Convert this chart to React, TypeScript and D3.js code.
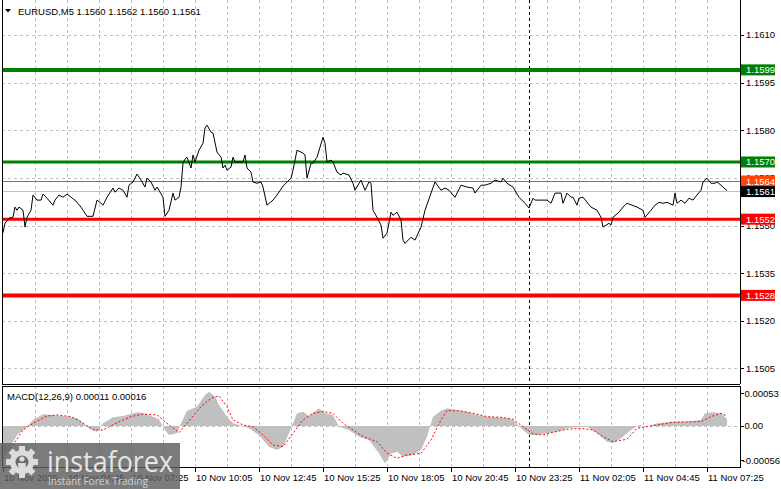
import React from 'react';
import * as d3 from 'd3';

// EURUSD M5 closes, [bar index, close]; bar 0 = 10 Nov 02:05
const closeSeries: [number, number][] = [
  [0, 1.15477], [1, 1.15507], [3, 1.15523], [5, 1.15526], [6, 1.15558], [7, 1.15548], [8, 1.15558], [10, 1.15548],
  [11, 1.15495], [12, 1.15526], [14, 1.15548], [15, 1.15596], [17, 1.1558], [19, 1.1558], [20, 1.15599], [22, 1.15586],
  [25, 1.15564], [26, 1.1558], [28, 1.15596], [30, 1.15589], [32, 1.15599], [34, 1.15589], [36, 1.1558], [39, 1.15558],
  [40, 1.15548], [42, 1.15529], [45, 1.15529], [47, 1.1558], [49, 1.1557], [50, 1.15564], [52, 1.15589], [55, 1.15618],
  [56, 1.15605], [58, 1.15618], [60, 1.15611], [62, 1.15589], [63, 1.15627], [65, 1.15637], [67, 1.15662], [69, 1.15643],
  [71, 1.15621], [72, 1.15649], [74, 1.15637], [76, 1.15611], [77, 1.15621], [80, 1.15589], [81, 1.15529], [83, 1.15548],
  [85, 1.15602], [86, 1.1558], [88, 1.15589], [89, 1.15621], [90, 1.15696], [91, 1.15709], [92, 1.15715], [94, 1.15681],
  [95, 1.15722], [96, 1.157], [98, 1.15737], [100, 1.15759], [101, 1.15807], [102, 1.15816], [104, 1.15794], [105, 1.15791],
  [107, 1.15731], [109, 1.15715], [110, 1.15681], [111, 1.1569], [112, 1.15674], [114, 1.15684], [115, 1.15715], [116, 1.157],
  [118, 1.157], [120, 1.157], [121, 1.15722], [122, 1.15681], [124, 1.15668], [125, 1.15637], [127, 1.15633], [129, 1.15637],
  [130, 1.15621], [132, 1.15564], [135, 1.1558], [137, 1.15596], [140, 1.15624], [144, 1.15649], [145, 1.15674], [147, 1.15737],
  [150, 1.15728], [151, 1.15722], [152, 1.15649], [154, 1.15696], [155, 1.15696], [157, 1.15715], [160, 1.15778], [161, 1.15759],
  [162, 1.157], [164, 1.15706], [165, 1.157], [167, 1.15668], [169, 1.15659], [170, 1.15665], [173, 1.15659], [175, 1.15633],
  [176, 1.15611], [179, 1.15643], [181, 1.15611], [183, 1.15637], [184, 1.15633], [185, 1.15548], [187, 1.15526], [189, 1.15501],
  [190, 1.1546], [192, 1.15476], [194, 1.15542], [195, 1.15532], [197, 1.15542], [199, 1.15517], [200, 1.15454], [201, 1.15444],
  [204, 1.15463], [206, 1.15454], [209, 1.15495], [211, 1.15548], [214, 1.15602], [216, 1.15637], [219, 1.15611], [221, 1.15618],
  [223, 1.15611], [226, 1.15589], [229, 1.15627], [232, 1.15621], [235, 1.15618], [236, 1.15602], [239, 1.15627], [241, 1.15627],
  [244, 1.15633], [246, 1.15643], [249, 1.15637], [250, 1.15649], [252, 1.15633], [255, 1.15621], [258, 1.15589], [261, 1.1557],
  [263, 1.15555], [265, 1.15586], [266, 1.1558], [272, 1.1558], [274, 1.1557], [276, 1.15602], [279, 1.15602], [280, 1.1557],
  [282, 1.15602], [284, 1.15589], [285, 1.15589], [287, 1.15564], [288, 1.15586], [290, 1.15589], [294, 1.15558], [297, 1.15548],
  [299, 1.15526], [300, 1.15495], [303, 1.15507], [304, 1.15501], [305, 1.15526], [308, 1.15542], [310, 1.15558], [312, 1.1557],
  [317, 1.15558], [320, 1.15548], [321, 1.15526], [324, 1.15548], [326, 1.15564], [328, 1.15573], [330, 1.1557], [332, 1.15573],
  [335, 1.15564], [336, 1.15602], [337, 1.1557], [339, 1.1558], [341, 1.1557], [343, 1.15586], [345, 1.1558], [347, 1.15596],
  [349, 1.15611], [350, 1.15637], [352, 1.15649], [354, 1.15633], [356, 1.15633], [357, 1.15637], [359, 1.15627], [360, 1.15621],
  [362, 1.1561],
];

// MACD(12,26,9) main (histogram) and signal, [bar, value]
const macdHist: [number, number][] = [
  [0, -0.0005], [3, -0.00038], [5, -0.00026], [7, -0.000147], [12, -0.000011], [15, 0.000098], [20, 0.00019], [25, 0.000179],
  [32, 0.000152], [37, 0.000125], [40, 0.000043], [43, -0.000038], [47, -0.000092], [50, 0.000043], [55, 0.000141], [60, 0.000163],
  [65, 0.000206], [68, 0.000223], [73, 0.000179], [78, 0.000109], [81, -0.000065], [83, -0.000147], [87, -0.000119], [89, 0.000043],
  [92, 0.00025], [97, 0.000315], [101, 0.000505], [103, 0.000559], [106, 0.000478], [108, 0.000342], [112, 0.000152], [115, 0.000043],
  [118, 0.000016], [123, -0.000038], [128, -0.000147], [133, -0.000337], [137, -0.000391], [140, -0.000337], [143, -0.000119], [147, 0.000206],
  [150, 0.000233], [153, 0.000163], [158, 0.000288], [161, 0.000206], [165, 0.000179], [168, -0.000011], [173, -0.000065], [178, -0.000174],
  [183, -0.000228], [188, -0.000445], [191, -0.00061], [194, -0.00045], [197, -0.000418], [200, -0.0005], [205, -0.000472], [209, -0.000391],
  [212, -0.000174], [215, 0.000152], [219, 0.00025], [222, 0.000288], [227, 0.000261], [232, 0.000233], [237, 0.000179], [242, 0.000152],
  [247, 0.000141], [252, 0.000125], [255, 0.000098], [259, -0.000038], [263, -0.000147], [267, -0.000147], [272, -0.000119], [277, -0.000092],
  [282, -0.000038], [287, -0.000022], [292, -0.000011], [297, -0.000119], [302, -0.000255], [305, -0.000282], [309, -0.000201], [314, -0.000065],
  [318, 0.000016], [322, -0.000011], [327, 0.000043], [330, 0.000054], [335, 0.000071], [342, 0.000071], [349, 0.000098], [351, 0.000206],
  [355, 0.000223], [359, 0.000206], [362, 0.00011],
];

const macdSignal: [number, number][] = [
  [0, -0.000527], [5, -0.00031], [10, -0.000065], [15, 0.000043], [22, 0.000163], [27, 0.000179], [34, 0.000152], [39, 0.000071],
  [45, -0.000065], [50, -0.000065], [57, 0.000054], [64, 0.000152], [70, 0.000195], [77, 0.000179], [82, 0.000043], [88, -0.000109],
  [92, 0.000043], [99, 0.000315], [104, 0.000451], [108, 0.000489], [112, 0.000315], [115, 0.000098], [120, 0.000016], [125, -0.000011],
  [130, -0.000147], [135, -0.00031], [140, -0.000337], [145, -0.000119], [150, 0.000098], [155, 0.000206], [160, 0.000233], [165, 0.000206],
  [170, 0.000043], [175, -0.000065], [180, -0.000174], [187, -0.000255], [192, -0.000445], [197, -0.000527], [202, -0.000472], [209, -0.000445],
  [214, -0.000228], [219, 0.000098], [222, 0.00025], [229, 0.000244], [235, 0.000206], [242, 0.000152], [249, 0.000141], [255, 0.000109],
  [260, -0.000011], [265, -0.00013], [270, -0.000147], [275, -0.000103], [282, -0.000054], [289, -0.000038], [295, -0.000065], [300, -0.000174],
  [305, -0.000255], [312, -0.000217], [317, -0.000038], [322, -0.000011], [329, 0.000027], [335, 0.00006], [342, 0.000065], [349, 0.000071],
  [354, 0.000152], [359, 0.000206], [362, 0.00016],
];

const priceTicks = [1.161, 1.1595, 1.158, 1.1565, 1.155, 1.1535, 1.152, 1.1505];
const levelPrices = [1.1599, 1.157, 1.1552, 1.1528];
const levelColors = ['#008000', '#008000', '#ff0000', '#ff0000'];
const levelWidths = [4, 3, 3, 4];
const askPrice = 1.1564;
const bidPrice = 1.1561;
const macdTicks = [0.00053, 0, -0.00056];
const macdTickLabels = ['0.00053', '0.00', '-0.00056'];
const timeLabels = [
  '10 Nov 2025', '10 Nov 04:45', '10 Nov 07:25', '10 Nov 10:05', '10 Nov 12:45', '10 Nov 15:25',
  '10 Nov 18:05', '10 Nov 20:45', '10 Nov 23:25', '11 Nov 02:05', '11 Nov 04:45', '11 Nov 07:25',
];
const daySeparatorBar = 263;
const lastBar = 362;

const W = 781;
const H = 489;
const FONT = '"Liberation Sans", Arial, sans-serif';

export default function App() {
  const left = 2, right = 740, mainBottom = 384, macdTop = 386, macdBottom = 467;

  const x = d3.scaleLinear().domain([0, lastBar]).range([3, 727]);
  const y = d3.scaleLinear().domain([1.15001, 1.1621]).range([mainBottom, 0]);
  const ym = d3.scaleLinear().domain([-0.000668, 0.000651]).range([macdBottom, macdTop]);

  const priceLine = d3.line<[number, number]>().x(d => x(d[0])).y(d => y(d[1]));
  const histArea = d3.area<[number, number]>().x(d => x(d[0])).y0(ym(0)).y1(d => ym(d[1]));
  const signalLine = d3.line<[number, number]>().x(d => x(d[0])).y(d => ym(d[1]));

  const gridBars = d3.range(16, lastBar + 1, 16);
  const labelBars = timeLabels.map((_, i) => i * 32);
  const fmt = d3.format('.4f');
  const crisp = (v: number) => Math.round(v) + 0.5;

  const gearTeeth = d3.range(8).map(i => i * 45);

  return (
    <svg width={W} height={H} style={{ position: 'absolute', left: 0, top: 0, background: '#fff' }}
      fontFamily={FONT} fontSize={9.5}>
      <rect x={0} y={0} width={W} height={H} fill="#fff" />

      {/* grid */}
      <g stroke="#c0c0c0" strokeDasharray="3 3" shapeRendering="crispEdges">
        {priceTicks.map(t => (
          <line key={t} x1={left} x2={right} y1={crisp(y(t))} y2={crisp(y(t))} />
        ))}
        {gridBars.map(b => (
          <g key={b}>
            <line x1={crisp(x(b))} x2={crisp(x(b))} y1={0} y2={mainBottom} />
            <line x1={crisp(x(b))} x2={crisp(x(b))} y1={macdTop} y2={macdBottom} />
          </g>
        ))}
        <line x1={left} x2={right} y1={crisp(ym(0))} y2={crisp(ym(0))} />
      </g>

      {/* day separator */}
      <g stroke="#000" strokeDasharray="3 3" shapeRendering="crispEdges">
        <line x1={crisp(x(daySeparatorBar))} x2={crisp(x(daySeparatorBar))} y1={0} y2={mainBottom} />
        <line x1={crisp(x(daySeparatorBar))} x2={crisp(x(daySeparatorBar))} y1={macdTop} y2={macdBottom} />
      </g>

      {/* bid / ask lines */}
      <line x1={left} x2={right} y1={crisp(y(bidPrice))} y2={crisp(y(bidPrice))} stroke="#c0c0c0" shapeRendering="crispEdges" />
      <line x1={left} x2={right} y1={crisp(y(askPrice))} y2={crisp(y(askPrice))} stroke="#ff4500" shapeRendering="crispEdges" />

      {/* levels */}
      {levelPrices.map((p, i) => (
        <line key={p} x1={left} x2={right} y1={y(p)} y2={y(p)} stroke={levelColors[i]} strokeWidth={levelWidths[i]} />
      ))}

      {/* price */}
      <path d={priceLine(closeSeries) ?? ''} fill="none" stroke="#000" strokeWidth={1} />

      {/* MACD */}
      <path d={histArea(macdHist) ?? ''} fill="#c0c0c0" />
      <path d={signalLine(macdSignal) ?? ''} fill="none" stroke="#ff0000" strokeWidth={1} strokeDasharray="2 2" />

      {/* pane frames */}
      <g stroke="#000" fill="none" shapeRendering="crispEdges">
        <line x1={left} x2={left} y1={0} y2={mainBottom} />
        <line x1={left} x2={right} y1={mainBottom + 0.5} y2={mainBottom + 0.5} />
        <line x1={right + 0.5} x2={right + 0.5} y1={0} y2={mainBottom} />
        <rect x={left} y={macdTop + 0.5} width={right - left + 0.5} height={macdBottom - macdTop} />
      </g>

      {/* price axis */}
      {priceTicks.map(t => (
        <g key={t}>
          <line x1={right} x2={right + 4} y1={crisp(y(t))} y2={crisp(y(t))} stroke="#000" shapeRendering="crispEdges" />
          <text x={746} y={y(t) + 3.5}>{fmt(t)}</text>
        </g>
      ))}
      {levelPrices.map((p, i) => (
        <g key={p}>
          <rect x={741} y={y(p) - 5.5} width={34} height={11} fill={levelColors[i]} />
          <text x={746} y={y(p) + 3.5} fill="#fff">{fmt(p)}</text>
        </g>
      ))}
      <rect x={741} y={y(askPrice) - 5.5} width={34} height={11} fill="#ff4500" />
      <text x={746} y={y(askPrice) + 3.5} fill="#fff">{fmt(askPrice)}</text>
      <rect x={741} y={y(bidPrice) - 4.5} width={34} height={11} fill="#000" />
      <text x={746} y={y(bidPrice) + 4.5} fill="#fff">{fmt(bidPrice)}</text>

      {/* MACD axis */}
      {macdTicks.map((t, i) => (
        <g key={t}>
          <line x1={right} x2={right + 4} y1={crisp(ym(t))} y2={crisp(ym(t))} stroke="#000" shapeRendering="crispEdges" />
          <text x={t < 0 ? 742.5 : 744.5} y={ym(t) + 3.5}>{macdTickLabels[i]}</text>
        </g>
      ))}

      {/* time axis */}
      {labelBars.map((b, i) => (
        <g key={b}>
          <line x1={crisp(x(b))} x2={crisp(x(b))} y1={macdBottom} y2={macdBottom + 5} stroke="#000" shapeRendering="crispEdges" />
          <text x={x(b) + 1} y={481}>{timeLabels[i]}</text>
        </g>
      ))}

      {/* titles */}
      <path d="M5,9 L11,9 L8,12.5 Z" fill="#000" />
      <text x={18} y={14.5}>EURUSD,M5  1.1560 1.1562 1.1560 1.1561</text>
      <text x={7} y={400}>MACD(12,26,9) 0.00011 0.00016</text>

      {/* watermark */}
      <g>
        <rect x={0} y={443} width={180} height={46} fill="#5e5e5e" opacity={0.82} />
        <g transform="translate(22,462)" fill="#dcdcdc">
          {gearTeeth.map(a => (
            <rect key={a} x={-3} y={-16} width={6} height={7} transform={`rotate(${a})`} />
          ))}
          <circle r={12} />
          <circle r={6.5} fill="#6a6a6a" />
          <circle cy={-3} r={2.6} />
          <path d="M-4,1 L4,1 L3,12 L-3,12 Z" />
        </g>
        <text x={47} y={472} fontFamily='"Open Sans", "Noto Sans", sans-serif' fontSize={29}
          fill="#e6e6e6" textLength={126} lengthAdjust="spacingAndGlyphs">instaforex</text>
        <text x={48} y={484.5} fontFamily='"Open Sans", "Noto Sans", sans-serif' fontSize={11.5}
          fill="#d0d0d0" textLength={100} lengthAdjust="spacingAndGlyphs">Instant Forex Trading</text>
      </g>
    </svg>
  );
}
